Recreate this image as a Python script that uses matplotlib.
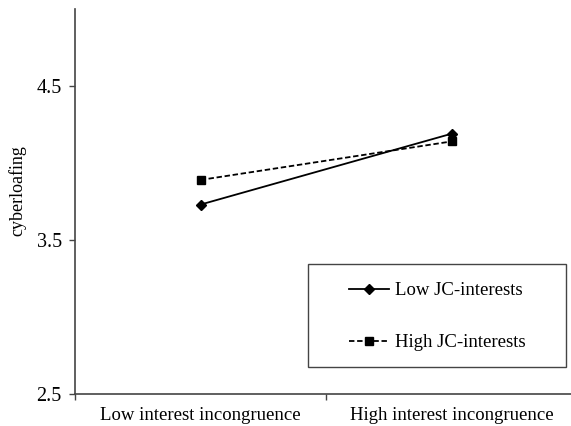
import numpy as np
import matplotlib
matplotlib.use("Agg")
import matplotlib.pyplot as plt
from matplotlib.patches import Rectangle

# ------------------------
# Dane
# ------------------------
categories = ["Low interest incongruence", "High interest incongruence"]
low_jc = [3.73, 4.19]
high_jc = [3.89, 4.14]
series_names = ["Low JC-interests", "High JC-interests"]
y_ticks = [2.5, 3.5, 4.5]

plt.rcParams["font.family"] = ["Liberation Serif", "DejaVu Serif"]

W, H = 571, 426
AX_L, AX_R, AX_T, AX_B = 75, 577, 9, 394   # granice osi w pikselach
AX_W, AX_H = AX_R - AX_L, AX_B - AX_T


def px_to_ax(px, py):
    return (px - AX_L) / AX_W, (AX_B - py) / AX_H


fig = plt.figure(figsize=(W / 100, H / 100), dpi=100)
ax = fig.add_axes([AX_L / W, (H - AX_B) / H, AX_W / W, AX_H / H])

x = np.arange(len(categories))
ax.plot(x, low_jc, color="black", linestyle="-", linewidth=1.3,
        marker="D", markersize=5, label=series_names[0])
ax.plot(x, high_jc, color="black", linestyle=(0, (3, 1.5)), linewidth=1.3,
        marker="s", markersize=6, label=series_names[1])

ax.set_xlim(-0.5, 1.5)
ax.set_ylim(2.5, 5.0)
ax.set_yticks(y_ticks)
ax.set_yticklabels([f"{v:.1f}" for v in y_ticks])
ax.set_xticks([-0.5, 0.5])
ax.set_xticklabels([])
ax.set_xticks(x, minor=True)
ax.set_xticklabels(categories, minor=True)
ax.tick_params(axis="x", which="minor", length=0, pad=9, labelsize=13.5)
ax.tick_params(axis="x", which="major", length=4, width=1, color="#444444")
ax.tick_params(axis="y", length=4.5, width=1, labelsize=14.5, pad=5, color="#444444")

for side in ["top", "right"]:
    ax.spines[side].set_visible(False)
for side in ["left", "bottom"]:
    ax.spines[side].set_color("#444444")
    ax.spines[side].set_linewidth(1.2)

# etykieta osi Y
fig.text(17.5 / W, 1 - 191 / H, "cyberloafing", rotation=90,
         ha="center", va="center", fontsize=13)

# ramka legendy jak w Excelu (szersza niż zawartość)
x0, y0 = px_to_ax(308, 367)
x1, y1 = px_to_ax(566, 264)
ax.add_patch(Rectangle((x0, y0), x1 - x0, y1 - y0, transform=ax.transAxes,
                       fill=False, edgecolor="#444444", linewidth=1.0, clip_on=False))

leg = ax.legend(loc="upper left", bbox_to_anchor=px_to_ax(349, 282),
                fontsize=13.5, frameon=False,
                handlelength=2.15, handletextpad=0.3, labelspacing=1.87,
                borderpad=0.0, borderaxespad=0.0)

fig.savefig("out.png", dpi=100)
